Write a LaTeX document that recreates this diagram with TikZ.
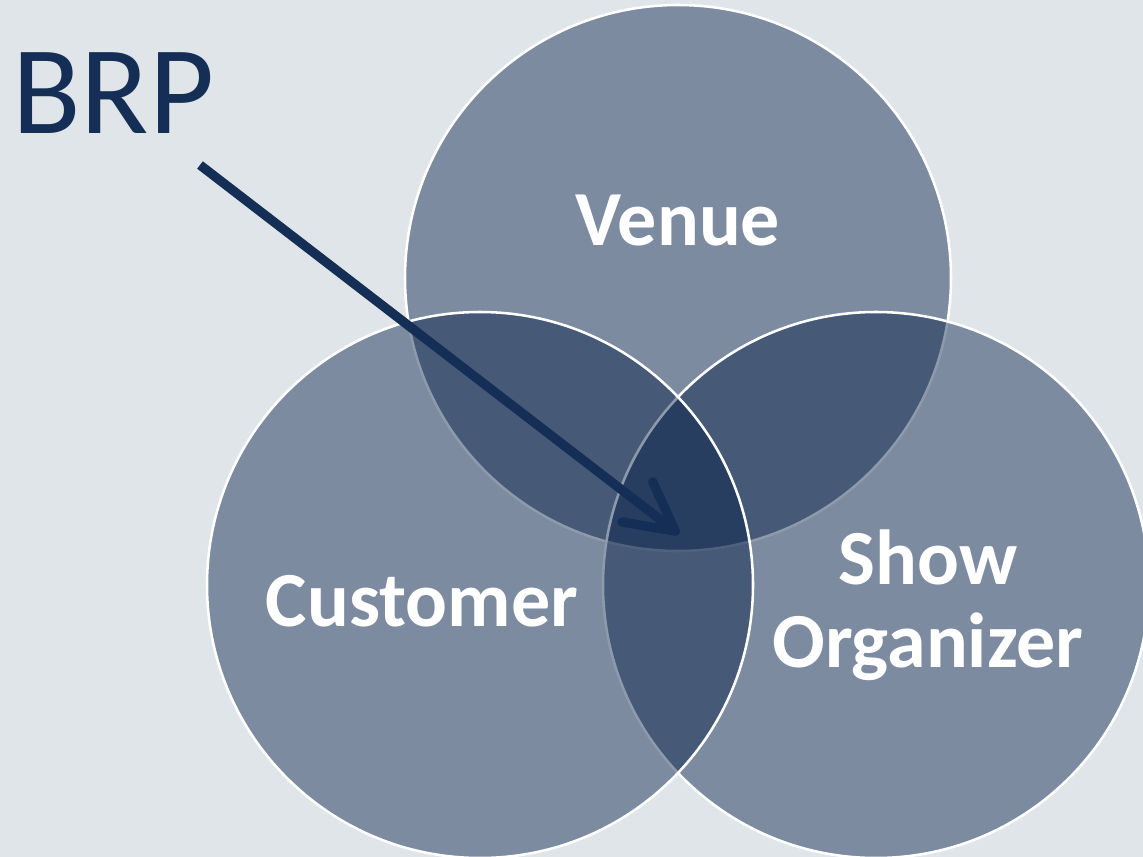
\documentclass[tikz,border=0pt]{standalone}
\usepackage{fontspec}
\setmainfont{Carlito}
\usepackage{xcolor}
\definecolor{slideBg}{RGB}{223,229,232}
\definecolor{brpNavy}{RGB}{21,46,86}
\definecolor{vennNavy}{RGB}{5,30,72}
\usepackage{tikz}
\usetikzlibrary{arrows.meta}

\tikzset{
	venn/.style={circle, minimum size=409.5pt, inner sep=0pt, outer sep=0pt,
		fill=vennNavy, fill opacity=0.45, draw=white, line width=1.9pt},
	vennlabel/.style={anchor=base, text=white, align=center,
		font=\fontsize{58.5}{62}\selectfont\bfseries}
}

\begin{document}
\begin{tikzpicture}[x=0.75pt, y=-0.75pt, every node/.style={inner sep=0pt}]
	\useasboundingbox (0,0) rectangle (1143,857);
	\clip (0,0) rectangle (1143,857);
	\fill[slideBg] (0,0) rectangle (1143,857);

	% the three sets
	\node[venn] (venue) at (678,278) {};
	\node[venn] (show) at (876,585) {};
	\node[venn] (customer) at (480,585) {};

	\node[vennlabel] (venueText) at (678,245) {Venue};
	\node[vennlabel] (customerText) at (422,626) {Customer};
	\node[vennlabel] (showText) at (928,667) {Show\\Organizer};

	% the pointer into the middle
	\node[anchor=base west, text=brpNavy, font=\fontsize{94.5}{100}\selectfont] (brp) at (12,133) {BRP};
	\coordinate (brpTail) at (200,165);
	\coordinate (core) at (679,534);
	\draw[brpNavy, line width=7pt, -{Straight Barb[length=36pt, width=38pt, round]}] (brpTail) -- (core);

\end{tikzpicture}
\end{document}
